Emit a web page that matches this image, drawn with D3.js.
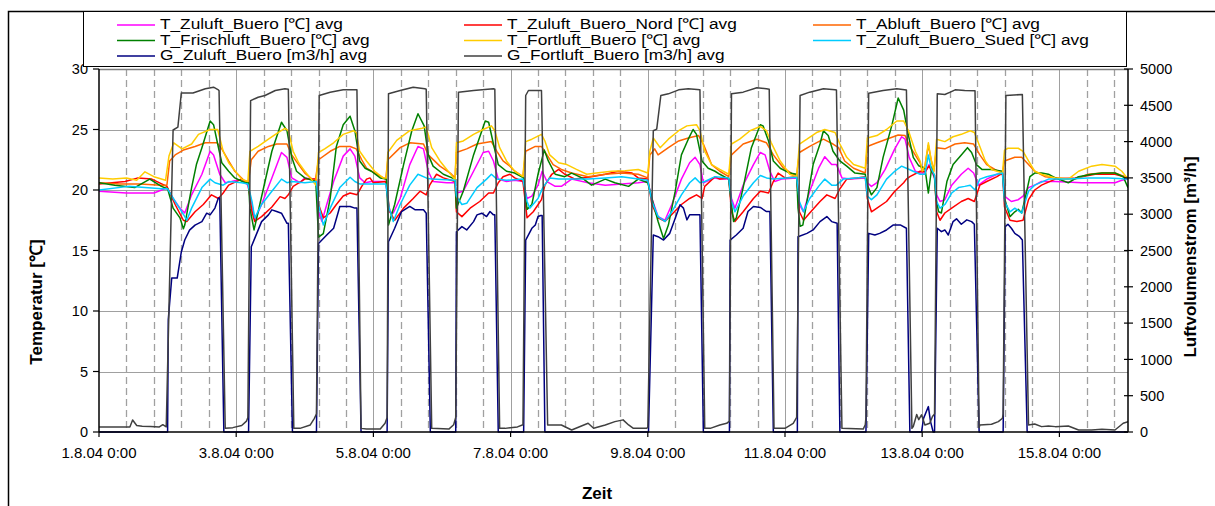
<!DOCTYPE html>
<html><head><meta charset="utf-8">
<script src="https://cdn.jsdelivr.net/npm/d3@7"></script>
<style>body{margin:0;background:#fff;} text{font-family:"Liberation Sans",Arial,sans-serif;fill:#000;}</style>
</head><body><svg id="c" width="1215" height="506"></svg>
<script>
// ---- data (x in days since 1.8.04 0:00) ----
const xTickLabels = ["1.8.04 0:00","3.8.04 0:00","5.8.04 0:00","7.8.04 0:00","9.8.04 0:00","11.8.04 0:00","13.8.04 0:00","15.8.04 0:00"];
const xTickDays = [0,2,4,6,8,10,12,14];
const yTempTicks = [0,5,10,15,20,25,30];
const yFlowTicks = [0,500,1000,1500,2000,2500,3000,3500,4000,4500,5000];

const T_Zuluft_Buero = [[0,19.9],[0.4,19.75],[0.8,19.75],[0.96,20.1],[1.0,20.1],[1.08,19.3],[1.18,18.5],[1.25,18.1],[1.35,19.6],[1.5,21.3],[1.62,23.2],[1.67,22.9],[1.76,21.3],[1.84,20.6],[1.93,20.7],[2.08,20.9],[2.17,20.4],[2.23,18.8],[2.27,17.5],[2.37,18.8],[2.52,21.0],[2.66,23.1],[2.74,22.7],[2.81,21.0],[2.93,20.6],[3.0,21.0],[3.1,20.9],[3.17,20.9],[3.2,18.2],[3.25,17.4],[3.32,18.8],[3.42,20.7],[3.56,22.8],[3.66,23.4],[3.73,22.8],[3.8,21.0],[3.88,20.6],[3.97,20.7],[4.18,20.7],[4.23,18.2],[4.29,18.1],[4.39,19.3],[4.53,22.1],[4.65,23.6],[4.73,23.4],[4.8,21.55],[4.87,20.7],[5.07,20.6],[5.19,20.6],[5.21,19.75],[5.31,19.9],[5.46,21.55],[5.6,23.1],[5.68,23.2],[5.75,22.4],[5.82,20.9],[5.94,20.7],[6.06,20.8],[6.18,20.7],[6.24,19.3],[6.31,19.5],[6.4,20.4],[6.46,21.55],[6.53,20.7],[6.65,20.3],[6.74,20.3],[6.89,20.9],[7.13,20.6],[7.38,20.4],[7.86,20.6],[8.0,20.7],[8.06,19.3],[8.15,17.8],[8.25,17.5],[8.35,18.8],[8.49,20.9],[8.61,22.25],[8.69,22.7],[8.76,22.1],[8.81,20.6],[8.98,21.0],[9.05,20.9],[9.18,20.9],[9.22,19.3],[9.27,18.5],[9.39,20.4],[9.54,22.1],[9.64,23.1],[9.71,22.9],[9.78,21.55],[9.85,20.7],[9.95,20.9],[10.17,21.0],[10.21,18.8],[10.27,18.2],[10.36,19.9],[10.49,21.8],[10.58,22.75],[10.68,22.1],[10.75,22.1],[10.83,21.0],[10.95,20.9],[11.17,21.0],[11.2,20.6],[11.26,20.3],[11.34,20.6],[11.46,21.7],[11.6,23.4],[11.7,24.4],[11.75,24.2],[11.81,22.7],[11.9,21.55],[11.97,21.4],[12.04,21.4],[12.1,22.1],[12.14,21.5],[12.18,21.0],[12.21,19.6],[12.26,19.05],[12.33,19.2],[12.43,20.4],[12.57,21.3],[12.67,21.8],[12.75,21.4],[12.82,20.4],[12.94,20.9],[13.09,21.3],[13.17,21.4],[13.2,19.5],[13.3,19.05],[13.4,19.2],[13.47,19.5],[13.55,20.2],[13.64,20.4],[13.74,20.7],[13.94,20.7],[14.33,20.6],[14.81,20.6],[14.91,20.8],[15.0,20.9]];

const T_Zuluft_Buero_Nord = [[0,20.5],[0.38,20.7],[0.57,21.0],[0.77,20.9],[0.99,20.3],[1.11,18.8],[1.23,17.5],[1.28,17.4],[1.4,18.2],[1.52,18.8],[1.64,19.6],[1.74,19.3],[1.81,19.75],[1.89,20.4],[2.08,20.9],[2.17,20.6],[2.23,18.2],[2.27,17.4],[2.37,17.8],[2.52,18.6],[2.64,19.45],[2.71,19.3],[2.76,19.6],[2.83,20.3],[3.0,20.9],[3.17,20.9],[3.2,18.8],[3.27,17.7],[3.37,18.1],[3.46,18.8],[3.56,19.5],[3.66,19.75],[3.76,19.6],[3.83,20.3],[3.9,20.9],[3.95,21.0],[4.0,20.6],[4.18,20.7],[4.24,18.2],[4.31,17.5],[4.44,18.5],[4.58,19.3],[4.68,19.9],[4.77,19.6],[4.82,20.4],[4.92,21.3],[5.02,21.0],[5.19,20.7],[5.21,18.2],[5.29,17.8],[5.41,18.5],[5.55,19.05],[5.68,19.75],[5.75,19.75],[5.82,20.6],[5.89,21.1],[5.99,21.3],[6.06,21.0],[6.18,20.7],[6.24,17.7],[6.33,18.2],[6.45,19.2],[6.5,20.4],[6.6,21.3],[6.7,21.7],[6.79,21.3],[6.94,20.9],[7.18,21.1],[7.38,21.3],[7.57,21.55],[7.77,21.4],[7.86,21.0],[8.0,20.9],[8.06,18.8],[8.15,17.7],[8.25,17.4],[8.37,18.1],[8.49,18.8],[8.61,19.3],[8.71,19.6],[8.79,19.3],[8.83,20.3],[8.98,21.1],[9.05,20.9],[9.18,21.0],[9.22,18.2],[9.27,17.4],[9.39,18.2],[9.54,19.3],[9.64,19.9],[9.76,19.75],[9.83,20.7],[9.9,21.4],[10.0,21.0],[10.17,21.1],[10.21,18.2],[10.27,17.5],[10.36,18.1],[10.51,19.05],[10.61,19.6],[10.73,19.3],[10.8,20.1],[10.9,20.9],[11.05,21.0],[11.17,21.1],[11.2,19.3],[11.26,18.2],[11.34,18.5],[11.48,19.05],[11.6,19.9],[11.73,20.6],[11.77,20.9],[11.82,21.1],[11.97,21.55],[12.04,21.5],[12.1,22.0],[12.14,21.5],[12.18,21.2],[12.21,18.2],[12.26,17.5],[12.33,18.1],[12.43,18.5],[12.57,19.05],[12.67,19.3],[12.76,19.05],[12.84,20.4],[12.94,20.7],[13.09,21.1],[13.17,21.4],[13.2,18.6],[13.28,17.5],[13.38,17.4],[13.47,17.5],[13.55,19.2],[13.64,20.0],[13.74,20.4],[13.94,20.9],[14.23,21.0],[14.52,21.3],[14.81,21.3],[15.0,21.0]];

const T_Abluft_Buero = [[0,20.6],[0.3,20.5],[0.6,20.5],[0.9,20.4],[0.99,20.4],[1.03,22.4],[1.11,22.9],[1.23,23.3],[1.4,23.6],[1.55,23.9],[1.72,23.9],[1.79,23.4],[1.89,22.4],[1.98,21.55],[2.13,20.7],[2.18,20.7],[2.22,22.5],[2.32,23.2],[2.47,23.6],[2.59,23.8],[2.74,23.8],[2.81,22.9],[2.91,22.1],[3.0,21.4],[3.15,20.7],[3.2,22.5],[3.37,23.2],[3.51,23.6],[3.66,23.6],[3.75,23.4],[3.83,22.5],[3.9,21.8],[4.05,21.3],[4.18,20.9],[4.21,22.5],[4.39,23.5],[4.53,23.9],[4.73,23.8],[4.8,22.9],[4.97,21.97],[5.12,21.4],[5.19,21.0],[5.21,23.1],[5.36,23.4],[5.51,23.8],[5.72,24.0],[5.8,23.2],[5.89,22.4],[5.99,21.97],[6.06,21.55],[6.18,21.1],[6.22,23.2],[6.36,23.6],[6.45,23.6],[6.53,22.9],[6.62,22.1],[6.74,21.7],[6.89,21.4],[7.13,21.1],[7.38,21.3],[7.62,21.4],[7.86,21.3],[8.0,21.0],[8.03,22.9],[8.1,23.4],[8.15,22.9],[8.3,23.5],[8.45,24.05],[8.59,24.3],[8.74,24.5],[8.81,23.8],[8.93,22.1],[9.05,21.55],[9.18,21.1],[9.22,22.9],[9.39,23.8],[9.59,24.2],[9.73,23.9],[9.83,22.9],[9.98,21.8],[10.12,21.3],[10.17,21.2],[10.21,23.1],[10.36,23.6],[10.56,24.2],[10.7,23.8],[10.78,23.5],[10.87,22.4],[11.0,21.8],[11.17,21.4],[11.2,23.6],[11.34,23.9],[11.48,24.2],[11.65,24.55],[11.75,24.5],[11.82,23.6],[11.97,22.25],[12.0,21.5],[12.04,22.0],[12.09,23.7],[12.13,22.5],[12.17,21.6],[12.21,23.5],[12.33,23.4],[12.48,23.8],[12.62,23.9],[12.75,23.8],[12.84,22.9],[12.94,22.1],[13.06,21.7],[13.17,21.4],[13.2,22.4],[13.35,22.7],[13.45,22.7],[13.55,22.1],[13.64,21.55],[13.79,21.1],[13.99,21.0],[14.23,20.9],[14.42,21.3],[14.62,21.4],[14.81,21.4],[15.0,21.0]];

const T_Frischluft_Buero = [[0,20.6],[0.23,20.4],[0.52,20.2],[0.74,20.9],[0.91,20.3],[1.0,20.1],[1.08,18.5],[1.18,17.7],[1.23,16.8],[1.25,17.1],[1.35,20.2],[1.42,22.1],[1.5,23.5],[1.62,25.7],[1.67,25.4],[1.73,23.8],[1.79,22.25],[1.89,21.55],[1.98,21.0],[2.13,20.6],[2.18,20.6],[2.2,18.5],[2.26,16.7],[2.32,18.2],[2.42,20.7],[2.52,23.2],[2.66,25.6],[2.74,24.9],[2.81,22.7],[2.88,21.55],[3.0,21.0],[3.16,20.7],[3.2,16.1],[3.27,16.4],[3.37,19.3],[3.46,23.6],[3.56,25.4],[3.66,26.1],[3.73,24.9],[3.8,22.4],[3.88,21.8],[3.97,21.55],[4.1,21.0],[4.19,20.9],[4.22,17.1],[4.31,18.8],[4.44,22.1],[4.56,24.9],[4.65,26.3],[4.74,25.3],[4.8,22.9],[4.87,21.97],[5.02,21.3],[5.19,20.9],[5.21,18.5],[5.31,19.9],[5.46,22.9],[5.63,25.7],[5.68,25.6],[5.75,23.8],[5.82,22.1],[5.94,21.55],[6.06,21.4],[6.19,21.0],[6.24,18.4],[6.31,18.8],[6.4,21.3],[6.49,23.3],[6.55,22.4],[6.65,21.3],[6.79,21.1],[6.89,21.4],[7.04,21.0],[7.18,20.4],[7.38,20.9],[7.52,20.6],[7.72,20.3],[7.86,20.9],[8.0,20.6],[8.06,19.3],[8.15,17.4],[8.23,16.0],[8.3,17.1],[8.4,19.9],[8.49,22.9],[8.59,24.2],[8.66,25.0],[8.71,24.6],[8.79,22.4],[8.88,21.8],[8.98,21.55],[9.05,21.3],[9.18,20.9],[9.21,19.3],[9.25,17.4],[9.29,17.7],[9.39,20.2],[9.51,23.5],[9.64,25.4],[9.68,25.3],[9.76,24.05],[9.83,22.4],[9.93,21.8],[10.07,21.4],[10.17,21.3],[10.19,18.5],[10.22,17.0],[10.26,17.1],[10.32,19.05],[10.41,22.1],[10.51,23.8],[10.56,24.9],[10.63,24.5],[10.7,23.2],[10.8,22.4],[10.9,21.97],[11.02,21.4],[11.17,21.3],[11.2,20.4],[11.26,19.6],[11.34,20.2],[11.43,22.7],[11.56,25.4],[11.65,27.6],[11.73,26.6],[11.8,24.5],[11.87,22.7],[11.95,22.0],[12.04,21.8],[12.09,19.75],[12.14,21.9],[12.18,21.0],[12.2,19.3],[12.24,18.2],[12.28,18.1],[12.36,20.7],[12.45,22.1],[12.57,22.9],[12.66,23.5],[12.72,23.1],[12.79,22.1],[12.87,21.7],[13.01,21.7],[13.17,21.55],[13.2,19.3],[13.28,17.8],[13.35,18.2],[13.4,18.4],[13.45,18.1],[13.5,19.3],[13.57,21.1],[13.64,21.4],[13.74,21.4],[13.84,21.3],[13.94,21.0],[14.13,20.6],[14.28,21.1],[14.47,21.3],[14.62,21.4],[14.81,21.4],[14.93,21.1],[15.0,20.2]];

const T_Fortluft_Buero = [[0,21.0],[0.2,20.9],[0.4,21.0],[0.55,20.8],[0.67,21.5],[0.8,21.1],[0.97,20.8],[1.02,22.8],[1.09,23.9],[1.21,23.4],[1.35,23.8],[1.45,24.6],[1.62,25.0],[1.73,25.0],[1.81,23.2],[1.89,22.25],[1.98,21.6],[2.08,20.9],[2.17,20.7],[2.2,23.2],[2.32,23.6],[2.47,24.2],[2.61,24.75],[2.71,25.1],[2.76,24.9],[2.83,23.2],[2.91,22.25],[3.0,21.55],[3.08,21.0],[3.16,20.4],[3.2,23.1],[3.29,23.4],[3.42,23.9],[3.56,24.6],[3.71,24.9],[3.75,24.75],[3.8,23.2],[3.9,22.4],[4.02,21.55],[4.14,21.0],[4.19,21.0],[4.21,23.1],[4.34,24.1],[4.53,24.9],[4.71,25.1],[4.77,25.2],[4.85,23.5],[4.97,22.4],[5.09,21.55],[5.17,21.0],[5.19,20.8],[5.21,23.9],[5.31,24.05],[5.46,24.6],[5.6,25.0],[5.72,25.3],[5.77,24.9],[5.84,23.5],[5.94,22.4],[6.06,21.55],[6.18,21.1],[6.22,24.0],[6.31,24.2],[6.45,24.6],[6.5,24.05],[6.57,22.9],[6.7,22.25],[6.82,22.1],[6.96,21.7],[7.11,21.3],[7.25,21.4],[7.47,21.55],[7.67,21.6],[7.86,21.7],[8.0,21.4],[8.03,23.2],[8.08,24.3],[8.18,23.5],[8.3,24.2],[8.45,24.9],[8.57,25.3],[8.71,25.4],[8.76,24.9],[8.83,23.2],[8.93,22.1],[9.05,21.7],[9.18,21.3],[9.22,23.8],[9.34,24.2],[9.49,24.9],[9.64,25.25],[9.73,24.9],[9.8,23.9],[9.93,22.4],[10.07,21.3],[10.17,21.1],[10.21,23.8],[10.32,24.2],[10.46,24.75],[10.58,25.0],[10.73,24.75],[10.8,23.8],[10.9,22.7],[11.0,22.1],[11.17,21.8],[11.2,24.3],[11.34,24.5],[11.48,25.0],[11.63,25.7],[11.73,25.7],[11.8,24.9],[11.9,23.2],[11.97,22.4],[12.0,21.6],[12.04,22.0],[12.09,23.9],[12.13,22.5],[12.17,21.5],[12.21,24.2],[12.33,24.0],[12.45,24.4],[12.57,24.6],[12.7,24.9],[12.76,24.75],[12.84,23.6],[12.92,22.4],[13.01,21.7],[13.17,21.4],[13.2,23.3],[13.25,23.45],[13.4,23.45],[13.47,23.2],[13.55,22.4],[13.64,21.55],[13.74,21.3],[13.94,21.0],[14.13,20.9],[14.28,21.55],[14.47,21.97],[14.62,22.1],[14.81,21.97],[14.91,21.55],[15.0,20.9]];

const T_Zuluft_Buero_Sued = [[0,20.0],[0.43,20.3],[0.91,20.1],[1.0,20.1],[1.11,19.05],[1.24,17.9],[1.28,17.5],[1.35,18.5],[1.5,20.2],[1.62,20.9],[1.69,20.6],[1.81,20.4],[1.89,20.7],[2.08,20.6],[2.17,20.5],[2.23,19.05],[2.27,17.7],[2.37,18.8],[2.52,19.9],[2.66,20.9],[2.74,20.6],[2.81,20.7],[3.0,20.6],[3.17,20.7],[3.2,18.8],[3.27,17.1],[3.37,18.5],[3.51,20.2],[3.66,21.05],[3.73,20.7],[3.8,20.5],[4.18,20.5],[4.23,18.5],[4.29,17.4],[4.39,18.8],[4.53,20.4],[4.65,21.3],[4.77,21.0],[4.85,20.9],[5.19,20.8],[5.21,19.5],[5.29,18.8],[5.36,18.9],[5.51,20.2],[5.65,20.9],[5.72,21.3],[5.8,20.9],[5.94,20.8],[6.18,20.9],[6.24,19.05],[6.28,18.5],[6.4,19.3],[6.47,20.2],[6.57,21.0],[6.7,20.9],[6.89,20.9],[7.13,20.9],[7.38,21.0],[7.62,21.1],[7.86,20.9],[8.0,20.8],[8.06,19.05],[8.15,17.8],[8.25,17.4],[8.35,18.2],[8.49,19.6],[8.61,20.6],[8.69,21.0],[8.76,20.6],[8.83,20.7],[8.98,21.1],[9.18,21.0],[9.22,19.05],[9.27,18.2],[9.39,19.5],[9.54,20.6],[9.64,21.2],[9.73,21.0],[9.83,20.9],[10.17,21.05],[10.21,19.05],[10.27,18.2],[10.36,19.3],[10.49,20.3],[10.58,20.9],[10.68,20.4],[10.75,20.4],[10.85,20.9],[11.17,21.05],[11.2,19.5],[11.26,19.2],[11.34,19.6],[11.48,20.9],[11.6,21.55],[11.7,21.97],[11.77,21.8],[11.87,21.55],[11.97,21.3],[12.04,21.3],[12.09,22.9],[12.13,21.8],[12.18,21.2],[12.21,19.05],[12.26,18.5],[12.33,18.8],[12.43,19.75],[12.53,20.2],[12.62,20.3],[12.7,20.4],[12.77,20.0],[12.84,20.9],[12.94,21.1],[13.09,21.3],[13.17,21.4],[13.2,19.05],[13.28,18.2],[13.35,18.5],[13.45,18.1],[13.55,19.9],[13.64,20.4],[13.84,20.9],[14.13,20.9],[14.42,21.0],[14.71,21.0],[15.0,20.9]];

const G_Zuluft_Buero = [[0,0],[1.0,0],[1.01,1550],[1.06,2120],[1.14,2120],[1.2,2480],[1.25,2645],[1.32,2780],[1.4,2850],[1.5,2898],[1.57,3014],[1.62,2991],[1.69,3084],[1.74,3222],[1.76,3222],[1.82,0],[2.18,0],[2.22,2551],[2.27,2667],[2.37,2898],[2.47,2991],[2.52,3060],[2.59,3037],[2.66,3014],[2.74,2875],[2.76,2875],[2.82,0],[3.17,0],[3.2,2597],[3.32,2713],[3.42,2806],[3.49,3037],[3.51,3107],[3.66,3107],[3.73,3084],[3.76,3084],[3.82,0],[4.2,0],[4.22,2621],[4.31,2806],[4.41,3037],[4.53,3107],[4.61,3060],[4.73,3060],[4.77,3014],[4.83,0],[5.2,0],[5.21,2759],[5.29,2829],[5.36,2783],[5.46,2898],[5.51,2991],[5.58,3014],[5.65,2968],[5.7,3037],[5.75,2991],[5.77,2991],[5.82,0],[6.19,0],[6.22,2644],[6.31,2806],[6.36,2852],[6.4,2968],[6.44,2982],[6.46,2982],[6.5,0],[8.01,0],[8.08,2713],[8.15,2690],[8.23,2644],[8.32,2736],[8.4,2945],[8.47,3130],[8.52,3084],[8.57,2922],[8.61,2991],[8.76,2991],[8.81,0],[9.19,0],[9.2,2644],[9.29,2713],[9.39,2806],[9.46,3037],[9.54,3107],[9.64,3093],[9.73,3037],[9.78,3037],[9.83,0],[10.18,0],[10.19,2690],[10.32,2736],[10.41,2783],[10.51,2898],[10.61,2968],[10.68,2898],[10.76,2875],[10.8,0],[11.18,0],[11.22,2736],[11.31,2713],[11.38,2736],[11.48,2783],[11.58,2852],[11.68,2852],[11.77,2806],[11.82,0],[11.99,0],[12.02,188],[12.09,350],[12.12,150],[12.16,0],[12.18,0],[12.22,2806],[12.28,2760],[12.33,2783],[12.38,2713],[12.45,2898],[12.5,2936],[12.57,2862],[12.65,2922],[12.72,2898],[12.76,2862],[12.83,0],[13.18,0],[13.21,2829],[13.25,2862],[13.3,2806],[13.35,2736],[13.42,2690],[13.46,2644],[13.53,0],[15.0,0]];

const G_Fortluft_Buero = [[0,70],[0.45,70],[0.49,165],[0.55,90],[0.63,80],[0.75,75],[0.88,70],[0.93,100],[0.98,70],[1.08,4160],[1.15,4200],[1.2,4670],[1.37,4670],[1.55,4727],[1.67,4750],[1.74,4713],[1.75,4700],[1.84,50],[1.95,60],[2.08,90],[2.15,150],[2.17,200],[2.21,4565],[2.32,4611],[2.42,4635],[2.57,4704],[2.71,4727],[2.76,4720],[2.84,50],[2.93,50],[3.08,97],[3.14,188],[3.17,250],[3.21,4635],[3.37,4681],[3.56,4713],[3.76,4713],[3.82,50],[3.9,40],[4.1,40],[4.17,120],[4.2,200],[4.22,4658],[4.39,4704],[4.58,4750],[4.75,4727],[4.77,4720],[4.85,50],[5.1,40],[5.17,100],[5.2,200],[5.24,4681],[5.46,4704],[5.75,4727],[5.77,4720],[5.84,50],[5.92,50],[6.1,70],[6.18,100],[6.22,4635],[6.26,4704],[6.45,4704],[6.54,97],[6.74,97],[6.89,28],[7.13,120],[7.21,51],[7.38,97],[7.52,143],[7.64,167],[7.72,97],[7.79,51],[7.98,51],[8.0,60],[8.08,4149],[8.13,4172],[8.19,4635],[8.3,4658],[8.45,4713],[8.59,4727],[8.76,4713],[8.83,50],[8.91,50],[9.05,97],[9.15,120],[9.19,150],[9.22,4658],[9.39,4681],[9.59,4741],[9.73,4727],[9.77,4720],[9.84,50],[10.0,50],[10.12,120],[10.17,200],[10.22,4635],[10.36,4681],[10.56,4727],[10.73,4713],[10.75,4710],[10.83,50],[11.14,40],[11.17,100],[11.18,200],[11.22,4667],[11.43,4704],[11.63,4727],[11.77,4710],[11.85,50],[11.87,75],[11.92,240],[11.95,170],[11.99,236],[12.04,97],[12.11,120],[12.15,213],[12.18,250],[12.22,4658],[12.33,4649],[12.41,4681],[12.48,4713],[12.62,4704],[12.77,4700],[12.83,60],[12.84,97],[13.01,106],[13.11,143],[13.17,190],[13.18,250],[13.22,4635],[13.46,4649],[13.55,97],[13.64,110],[13.74,74],[13.84,83],[13.94,74],[14.13,83],[14.28,28],[14.47,28],[14.62,37],[14.81,28],[14.93,120],[15.0,143]];

const seriesNames = ["T_Zuluft_Buero [\u2103] avg","T_Zuluft_Buero_Nord [\u2103] avg","T_Abluft_Buero [\u2103] avg","T_Frischluft_Buero [\u2103] avg","T_Fortluft_Buero [\u2103] avg","T_Zuluft_Buero_Sued [\u2103] avg","G_Zuluft_Buero [m3/h] avg","G_Fortluft_Buero [m3/h] avg"];

// ---- chart ----
const svg = d3.select('#c');
const L = 99, R = 1128, T = 69, B = 432;
const x = d3.scaleLinear().domain([0,15]).range([L,R]);
const yT = d3.scaleLinear().domain([0,30]).range([B,T]);
const yF = d3.scaleLinear().domain([0,5000]).range([B,T]);

// chart area border
svg.append('path').attr('d',`M8.5,520 V11.5 H1230`).attr('fill','none').attr('stroke','#000').attr('stroke-width',1.5);

// grid
const g = svg.append('g');
const minor = d3.range(1,38).map(k=>k*0.4).filter(d=>Math.abs(d/2-Math.round(d/2))>1e-6);
g.selectAll('.mn').data(minor).join('line')
  .attr('x1',d=>Math.round(x(d))+0.5).attr('x2',d=>Math.round(x(d))+0.5).attr('y1',T).attr('y2',B)
  .attr('stroke','#a0a0a0').attr('stroke-width',1.3).attr('stroke-dasharray','7,4');
g.selectAll('.mj').data(xTickDays.slice(1)).join('line')
  .attr('x1',d=>Math.round(x(d))+0.5).attr('x2',d=>Math.round(x(d))+0.5).attr('y1',T).attr('y2',B)
  .attr('stroke','#a0a0a0').attr('stroke-width',1);
g.selectAll('.hz').data(yTempTicks.slice(1,-1)).join('line')
  .attr('x1',L).attr('x2',R).attr('y1',d=>Math.round(yT(d))+0.5).attr('y2',d=>Math.round(yT(d))+0.5)
  .attr('stroke','#a0a0a0').attr('stroke-width',1);
// plot top border
svg.append('line').attr('x1',L).attr('x2',R).attr('y1',T+0.5).attr('y2',T+0.5).attr('stroke','#808080').attr('stroke-width',1.5);

// lines
svg.append('clipPath').attr('id','clp').append('rect').attr('x',L).attr('y',T-2).attr('width',R-L).attr('height',B-T+3);
const lines = svg.append('g').attr('clip-path','url(#clp)');
const lt = d3.line().x(d=>x(d[0])).y(d=>yT(d[1]));
const lf = d3.line().x(d=>x(d[0])).y(d=>yF(d[1]));
const colors = ['#ff00ff','#ff0000','#ff6600','#008000','#ffcc00','#00ccff','#000080','#404040'];
const temps = [T_Zuluft_Buero,T_Zuluft_Buero_Nord,T_Abluft_Buero,T_Frischluft_Buero,T_Fortluft_Buero,T_Zuluft_Buero_Sued];
temps.forEach((s,i)=>lines.append('path').attr('d',lt(s)).attr('fill','none').attr('stroke',colors[i]).attr('stroke-width',1.5).attr('stroke-linejoin','round'));
[G_Zuluft_Buero,G_Fortluft_Buero].forEach((s,i)=>lines.append('path').attr('d',lf(s)).attr('fill','none').attr('stroke',colors[6+i]).attr('stroke-width',1.5).attr('stroke-linejoin','round'));

// axes
const ax = svg.append('g');
ax.append('line').attr('x1',L).attr('x2',L).attr('y1',T).attr('y2',B).attr('stroke','#000').attr('stroke-width',1.5);
ax.append('line').attr('x1',L).attr('x2',R).attr('y1',B).attr('y2',B).attr('stroke','#000').attr('stroke-width',1.5);
ax.append('line').attr('x1',R).attr('x2',R).attr('y1',T).attr('y2',B).attr('stroke','#000').attr('stroke-width',1.5);
ax.selectAll('.lt').data(yTempTicks).join('line').attr('x1',L-6).attr('x2',L).attr('y1',d=>yT(d)).attr('y2',d=>yT(d)).attr('stroke','#000').attr('stroke-width',1.2);
ax.selectAll('.ll').data(yTempTicks).join('text').attr('x',L-11).attr('y',d=>yT(d)).attr('dy','0.36em').attr('text-anchor','end').style('font-size','14.5px').text(d=>d);
ax.selectAll('.rt').data(yFlowTicks).join('line').attr('x1',R-4).attr('x2',R+5).attr('y1',d=>yF(d)).attr('y2',d=>yF(d)).attr('stroke','#000').attr('stroke-width',1.2);
ax.selectAll('.rl').data(yFlowTicks).join('text').attr('x',R+12).attr('y',d=>yF(d)).attr('dy','0.36em').attr('text-anchor','start').style('font-size','14.5px').text(d=>d);
ax.selectAll('.bt').data(xTickDays).join('line').attr('x1',d=>x(d)).attr('x2',d=>x(d)).attr('y1',B).attr('y2',B+5).attr('stroke','#000').attr('stroke-width',1.2);
ax.selectAll('.bl').data(xTickDays).join('text').attr('x',d=>x(d)).attr('y',B+26).attr('text-anchor','middle').style('font-size','15px').text((d,i)=>xTickLabels[i]);

// titles
svg.append('text').attr('transform','translate(42,302) rotate(-90)').attr('text-anchor','middle').style('font-size','17px').style('font-weight','bold').text('Temperatur [\u2103]');
svg.append('text').attr('transform','translate(1196,257) rotate(-90)').attr('text-anchor','middle').style('font-size','17px').style('font-weight','bold').text('Luftvolumenstrom [m\u00b3/h]');
svg.append('text').attr('x',597).attr('y',499).attr('text-anchor','middle').style('font-size','17px').style('font-weight','bold').text('Zeit');

// legend
const lg = svg.append('g');
lg.append('rect').attr('x',83.5).attr('y',11.5).attr('width',1043).attr('height',55).attr('fill','#fff').attr('stroke','#000').attr('stroke-width',1);
const colX = [117,464,813];
const rowY = [24,39.5,55];
seriesNames.forEach((n,i)=>{
  const cx = colX[i%3], cy = rowY[Math.floor(i/3)];
  lg.append('line').attr('x1',cx).attr('x2',cx+38).attr('y1',cy+1).attr('y2',cy+1).attr('stroke',colors[i]).attr('stroke-width',1.5);
  lg.append('text').attr('transform',`translate(${cx+43},${cy}) scale(1.15,1)`).attr('dy','0.36em').style('font-size','15px').text(n);
});
</script></body></html>
